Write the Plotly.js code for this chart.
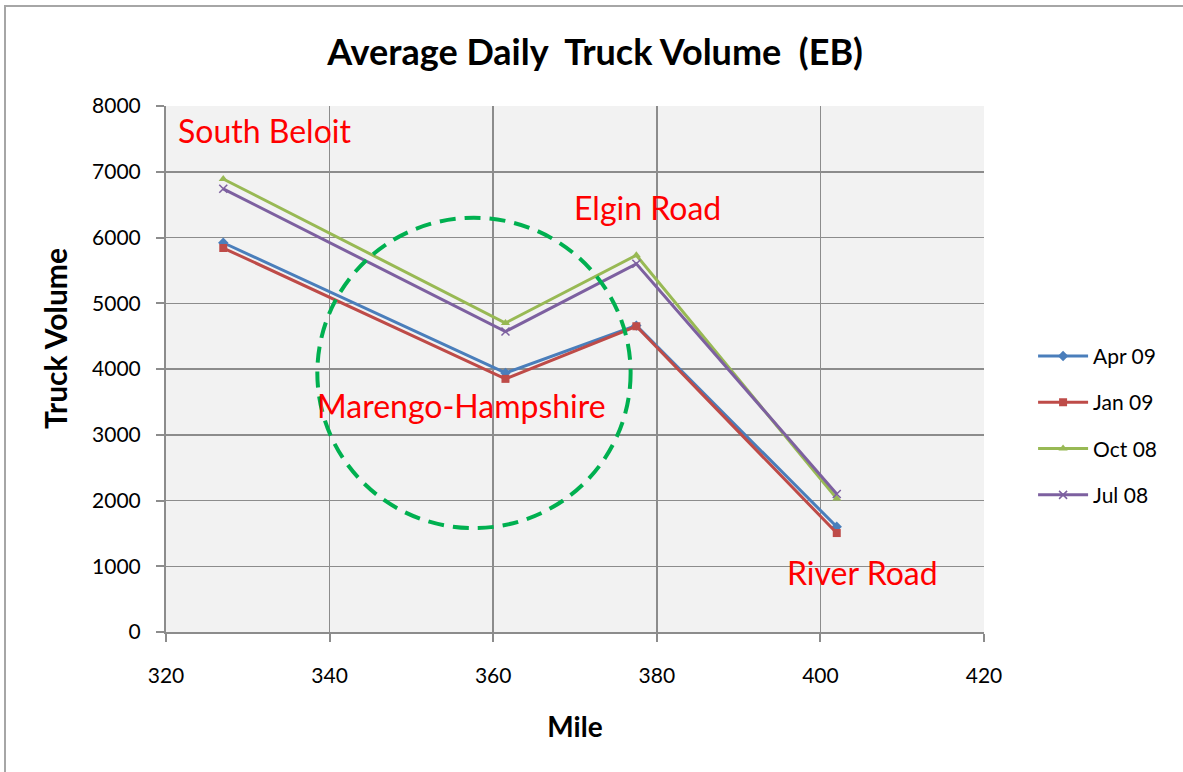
<!DOCTYPE html>
<html>
<head>
<meta charset="utf-8">
<script src="https://cdn.plot.ly/plotly-3.0.1.min.js"></script>
<style>html,body{margin:0;padding:0;background:#fff;}#chart{width:1183px;height:772px;}</style>
</head>
<body>
<div id="chart"></div>
<script>
// Data
const miles = [327, 361.5, 377.5, 402];
const seriesNames = ["Apr 09", "Jan 09", "Oct 08", "Jul 08"];
const apr09 = [5920, 3940, 4660, 1600];
const jan09 = [5840, 3850, 4650, 1505];
const oct08 = [6890, 4700, 5730, 2030];
const jul08 = [6740, 4570, 5600, 2100];
const xTicks = [320, 340, 360, 380, 400, 420];
const yTicks = [0, 1000, 2000, 3000, 4000, 5000, 6000, 7000, 8000];
const labelTexts = ["South Beloit", "Elgin Road", "Marengo-Hampshire", "River Road"];
const labelX = [321.2, 369.6, 338.2, 395.7];
const labelY = [7620, 6450, 3440, 900];
const circleX = [338.5, 376.8];
const circleY = [1580, 6300];

const FONT = "Lato, Carlito, Calibri, 'DejaVu Sans', sans-serif";
const colors = ["#4a7ebb", "#be4b48", "#98b954", "#7d60a0"];
const symbols = ["diamond", "square", "triangle-up", "x-thin"];
const values = [apr09, jan09, oct08, jul08];

const traces = seriesNames.map((name, i) => ({
  type: "scatter",
  mode: "lines+markers",
  name: name,
  x: miles,
  y: values[i],
  legendgroup: name,
  line: {color: colors[i], width: 3},
  marker: {symbol: symbols[i], size: 8, color: colors[i],
           line: {color: colors[i], width: symbols[i] === "x-thin" ? 1.5 : 0}}
}));

const annotations = labelTexts.map((t, i) => ({
  x: labelX[i], y: labelY[i], xref: "x", yref: "y",
  text: t, showarrow: false, xanchor: "left", yanchor: "middle",
  font: {family: FONT, size: 32, color: "#ff0000"}
}));
// y-axis title placed as in the reference (slightly above plot centre)
annotations.push({
  x: (55 - 166) / 818, y: (632 - 339) / 526, xref: "paper", yref: "paper",
  text: "<b>Truck Volume</b>", textangle: -90, showarrow: false,
  xanchor: "center", yanchor: "middle",
  font: {family: FONT, size: 30, color: "#000"}
});

const layout = {
  width: 1183, height: 772,
  paper_bgcolor: "#ffffff",
  plot_bgcolor: "#f2f2f2",
  margin: {l: 166, r: 199, t: 106, b: 140},
  font: {family: FONT, color: "#000"},
  title: {
    text: "<b>Average Daily  Truck Volume  (EB)</b>",
    x: 0.503, xanchor: "center", y: 1 - 52/772, yanchor: "middle",
    font: {family: FONT, size: 36, color: "#000"}
  },
  xaxis: {
    range: [320, 420], tickvals: xTicks, ticktext: xTicks.map(String),
    showgrid: true, gridcolor: "#8c8c8c", gridwidth: 1.5,
    showline: true, linecolor: "#8c8c8c", linewidth: 2, mirror: false,
    ticks: "outside", ticklen: 8, tickcolor: "#8c8c8c", tickwidth: 2,
    ticklabelstandoff: 16,
    tickfont: {family: FONT, size: 21, color: "#000"},
    zeroline: false,
    title: {text: "<b>Mile</b>", font: {family: FONT, size: 28, color: "#000"}, standoff: 31}
  },
  yaxis: {
    range: [0, 8000], tickvals: yTicks, ticktext: yTicks.map(String),
    showgrid: true, gridcolor: "#8c8c8c", gridwidth: 1.5,
    showline: true, linecolor: "#8c8c8c", linewidth: 2,
    ticks: "outside", ticklen: 8, tickcolor: "#8c8c8c", tickwidth: 2,
    ticklabelstandoff: 11,
    tickfont: {family: FONT, size: 21, color: "#000"},
    zeroline: false
  },
  legend: {
    x: 1.06, xanchor: "left", y: 0.392, yanchor: "middle",
    font: {family: FONT, size: 21, color: "#000"},
    itemwidth: 50,
    tracegroupgap: 16, bgcolor: "rgba(0,0,0,0)"
  },
  shapes: [
    {type: "circle", xref: "x", yref: "y", x0: circleX[0], x1: circleX[1], y0: circleY[0], y1: circleY[1],
     line: {color: "#00b050", width: 4, dash: "16px,9px"}, layer: "above"},
    {type: "rect", xref: "paper", yref: "paper", x0: (5-166)/818, x1: 1.5, y0: -0.5, y1: (632-6)/526,
     line: {color: "#a6a6a6", width: 2}, layer: "below"}
  ],
  annotations: annotations
};

Plotly.newPlot("chart", traces, layout, {displayModeBar: false, staticPlot: true});
</script>
</body>
</html>
